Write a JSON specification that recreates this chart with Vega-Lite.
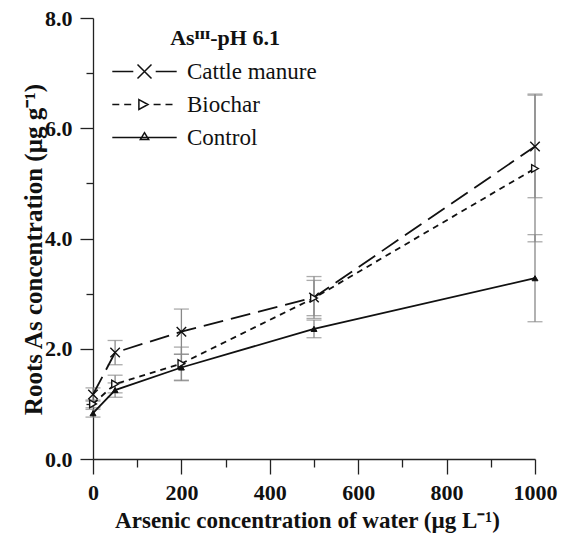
{
  "$schema": "https://vega.github.io/schema/vega-lite/v6.json",
  "width": 442,
  "height": 441,
  "autosize": "none",
  "padding": {"left": 93, "top": 18, "right": 27, "bottom": 78},
  "background": "white",
  "config": {
    "view": {"stroke": null},
    "font": "Liberation Serif",
    "legend": {"labelFont": "Liberation Serif, Times New Roman, DejaVu Serif, serif", "titleFont": "Liberation Serif"},
    "axis": {
      "grid": false,
      "domainColor": "#222",
      "domainWidth": 1.3,
      "tickColor": "#222",
      "tickWidth": 1.3,
      "labelFont": "Liberation Serif",
      "labelFontWeight": "bold",
      "labelFontSize": 22,
      "labelColor": "#111",
      "titleFont": "Liberation Serif",
      "titleFontWeight": "bold",
      "titleFontSize": 23,
      "titleColor": "#111",
      "labelOverlap": false
    }
  },
  "data": {
    "values": [
      {"series": "Cattle manure", "conc": 0, "mean": 1.17, "lo": 1.05, "hi": 1.29},
      {"series": "Cattle manure", "conc": 50, "mean": 1.93, "lo": 1.71, "hi": 2.15},
      {"series": "Cattle manure", "conc": 200, "mean": 2.31, "lo": 1.90, "hi": 2.72},
      {"series": "Cattle manure", "conc": 500, "mean": 2.93, "lo": 2.55, "hi": 3.31},
      {"series": "Cattle manure", "conc": 1000, "mean": 5.67, "lo": 4.74, "hi": 6.62},
      {"series": "Biochar", "conc": 0, "mean": 1.00, "lo": 0.93, "hi": 1.07},
      {"series": "Biochar", "conc": 50, "mean": 1.36, "lo": 1.20, "hi": 1.52},
      {"series": "Biochar", "conc": 200, "mean": 1.73, "lo": 1.43, "hi": 2.03},
      {"series": "Biochar", "conc": 500, "mean": 2.92, "lo": 2.60, "hi": 3.24},
      {"series": "Biochar", "conc": 1000, "mean": 5.27, "lo": 3.94, "hi": 6.60},
      {"series": "Control", "conc": 0, "mean": 0.83, "lo": 0.76, "hi": 0.90},
      {"series": "Control", "conc": 50, "mean": 1.25, "lo": 1.12, "hi": 1.38},
      {"series": "Control", "conc": 200, "mean": 1.66, "lo": 1.42, "hi": 1.90},
      {"series": "Control", "conc": 500, "mean": 2.36, "lo": 2.20, "hi": 2.52},
      {"series": "Control", "conc": 1000, "mean": 3.28, "lo": 2.49, "hi": 4.07}
    ]
  },
  "layer": [
    {
      "mark": {"type": "errorbar", "color": "#888", "thickness": 1.3, "ticks": {"size": 15, "color": "#888", "thickness": 1.3}},
      "encoding": {
        "x": {
          "field": "conc", "type": "quantitative",
          "scale": {"domain": [0, 1000], "nice": false},
          "axis": {
            "title": "Arsenic concentration of water (µg L⁻¹)",
            "values": [0, 100, 200, 300, 400, 500, 600, 700, 800, 900, 1000],
            "labelExpr": "datum.value % 200 === 0 ? datum.label : ''",
            "format": "d",
            "tickSize": {"condition": {"test": "datum.value % 200 === 0", "value": 15}, "value": 8},
            "labelPadding": 8,
            "titleX": 214,
            "titleY": 68,
            "titleBaseline": "alphabetic",
            "labelFlush": false
          }
        },
        "y": {
          "field": "lo", "type": "quantitative",
          "scale": {"domain": [0, 8], "nice": false},
          "axis": {
            "title": "Roots As concentration (µg g⁻¹)",
            "values": [0, 1, 2, 3, 4, 5, 6, 7, 8],
            "format": ".1f",
            "labelExpr": "datum.value % 2 === 0 ? datum.label : ''",
            "tickSize": {"condition": {"test": "datum.value % 2 === 0", "value": 13}, "value": 7},
            "labelPadding": 8,
            "titleX": -52,
            "titleY": 231,
            "titleFontSize": 25,
            "titleBaseline": "alphabetic",
            "labelFlush": false
          }
        },
        "y2": {"field": "hi"},
        "detail": {"field": "series"}
      }
    },
    {
      "transform": [{"filter": "datum.series === 'Cattle manure'"}],
      "mark": {"type": "line", "color": "#111", "strokeWidth": 1.8, "strokeDash": [20, 8]},
      "encoding": {
        "x": {"field": "conc", "type": "quantitative"},
        "y": {"field": "mean", "type": "quantitative"}
      }
    },
    {
      "transform": [{"filter": "datum.series === 'Biochar'"}],
      "mark": {"type": "line", "color": "#111", "strokeWidth": 1.8, "strokeDash": [6, 5]},
      "encoding": {
        "x": {"field": "conc", "type": "quantitative"},
        "y": {"field": "mean", "type": "quantitative"}
      }
    },
    {
      "transform": [{"filter": "datum.series === 'Control'"}],
      "mark": {"type": "line", "color": "#111", "strokeWidth": 1.8},
      "encoding": {
        "x": {"field": "conc", "type": "quantitative"},
        "y": {"field": "mean", "type": "quantitative"}
      }
    },
    {
      "transform": [{"filter": "datum.series === 'Cattle manure'"}],
      "mark": {"type": "point", "shape": "M-1,-1L1,1M-1,1L1,-1", "size": 90, "stroke": "#111", "strokeWidth": 1.4, "fill": "transparent", "opacity": 1},
      "encoding": {
        "x": {"field": "conc", "type": "quantitative"},
        "y": {"field": "mean", "type": "quantitative"}
      }
    },
    {
      "transform": [{"filter": "datum.series === 'Biochar'"}],
      "mark": {"type": "point", "shape": "triangle-right", "size": 60, "stroke": "#111", "strokeWidth": 1.4, "fill": "white", "opacity": 1},
      "encoding": {
        "x": {"field": "conc", "type": "quantitative"},
        "y": {"field": "mean", "type": "quantitative"}
      }
    },
    {
      "transform": [{"filter": "datum.series === 'Control'"}],
      "mark": {"type": "point", "shape": "triangle-up", "size": 35, "stroke": "#111", "strokeWidth": 1, "fill": "#111", "opacity": 1},
      "encoding": {
        "x": {"field": "conc", "type": "quantitative"},
        "y": {"field": "mean", "type": "quantitative"}
      }
    },
    {
      "transform": [{"filter": "false"}],
      "mark": {"type": "point", "filled": false, "color": "#111", "strokeWidth": 1.5, "opacity": 1},
      "encoding": {
        "x": {"field": "conc", "type": "quantitative"},
        "y": {"field": "mean", "type": "quantitative"},
        "shape": {
          "field": "series", "type": "nominal",
          "scale": {
            "domain": ["Cattle manure", "Biochar", "Control"],
            "range": [
              "M-4.6,0L-1.6,0M1.6,0L4.6,0M-1,-1L1,1M-1,1L1,-1",
              "M-4.6,0L-3.6,0M-2.9,0L-1.9,0M-0.8,-0.7L0.5,0L-0.8,0.7ZM1.3,0L2.3,0M3.0,0L4.0,0",
              "M-4.6,0L4.6,0M-0.6,0.3L0,-0.7L0.6,0.3Z"
            ]
          },
          "legend": {
            "title": "Asᴵᴵᴵ-pH 6.1",
            "orient": "none",
            "legendX": 40,
            "legendY": 10,
            "padding": 0,
            "symbolSize": 196,
            "symbolStrokeWidth": 1.5,
            "symbolStrokeColor": "#111",
            "symbolFillColor": "transparent",
            "symbolOpacity": 1,
            "labelOffset": 31,
            "labelFont": "Liberation Serif, Times New Roman, DejaVu Serif, serif",
            "labelFontSize": 23,
            "labelColor": "#111",
            "titleFont": "Liberation Serif",
            "titleFontSize": 22,
            "titleFontWeight": "bold",
            "titleColor": "#111",
            "titleAnchor": "middle",
            "titlePadding": 10,
            "rowPadding": 9
          }
        }
      }
    }
  ]
}
